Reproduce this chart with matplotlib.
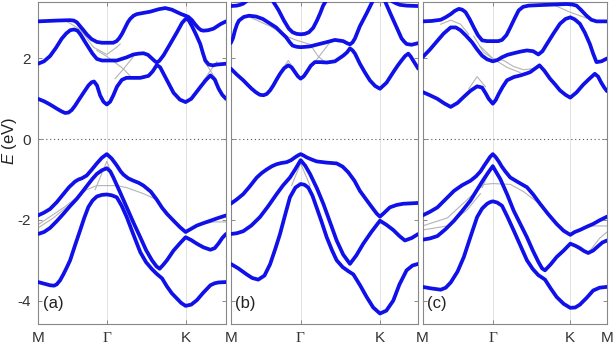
import matplotlib.pyplot as plt

# --- panel (a) -------------------------------------------------------------
a_ticks = [0, 0.366, 0.785, 1.0]

a_c1_k = [0, 0.10, 0.17, 0.19, 0.206, 0.224, 0.242, 0.259, 0.285, 0.313, 0.34, 0.366, 0.40, 0.418,
          0.432, 0.448, 0.464, 0.478, 0.49, 0.508, 0.526, 0.561, 0.597, 0.641, 0.677, 0.712, 0.739,
          0.762, 0.785, 0.80, 0.819, 0.835, 0.854, 0.868, 0.881, 0.905, 0.934, 0.97, 1.0]
a_c1_e = [2.92, 2.94, 2.95, 2.94, 2.90, 2.80, 2.70, 2.60, 2.48, 2.41, 2.39, 2.39, 2.39, 2.43,
          2.50, 2.62, 2.77, 2.90, 2.98, 3.06, 3.10, 3.13, 3.16, 3.22, 3.25, 3.21, 3.15,
          3.10, 3.06, 3.03, 2.95, 2.85, 2.75, 2.70, 2.69, 2.70, 2.74, 2.85, 2.92]
a_c2_k = [0, 0.032, 0.064, 0.095, 0.126, 0.15, 0.171, 0.192, 0.21, 0.224, 0.245, 0.268, 0.29, 0.313,
          0.34, 0.366, 0.419, 0.472, 0.508, 0.535, 0.561, 0.585, 0.606, 0.62, 0.632, 0.645, 0.668,
          0.703, 0.739, 0.766, 0.785, 0.80, 0.819, 0.84, 0.863, 0.878, 0.890, 0.908, 0.93, 0.952, 1.0]
a_c2_e = [1.87, 1.93, 2.06, 2.26, 2.49, 2.62, 2.70, 2.72, 2.69, 2.61, 2.45, 2.28, 2.12, 1.99,
          1.95, 1.95, 1.95, 2.03, 2.10, 2.12, 2.13, 2.09, 2.00, 1.94, 1.90, 1.94, 2.08,
          2.36, 2.65, 2.88, 2.98, 2.96, 2.80, 2.60, 2.36, 2.12, 1.95, 1.85, 1.83, 1.85, 1.87]
a_c3_k = [0, 0.032, 0.064, 0.099, 0.125, 0.144, 0.162, 0.179, 0.197, 0.215, 0.242, 0.268, 0.285,
          0.298, 0.314, 0.330, 0.348, 0.366, 0.384, 0.401, 0.42, 0.446, 0.47, 0.499, 0.544, 0.588,
          0.61, 0.632, 0.65, 0.668, 0.695, 0.721, 0.755, 0.785, 0.815, 0.845, 0.863, 0.89, 0.917,
          0.94, 0.961, 0.98, 1.0]
a_c3_e = [1.00, 0.94, 0.86, 0.76, 0.69, 0.65, 0.66, 0.72, 0.83, 0.96, 1.15, 1.33, 1.41,
          1.43, 1.33, 1.09, 0.93, 0.86, 0.93, 1.09, 1.30, 1.47, 1.52, 1.52, 1.52, 1.57,
          1.68, 1.84, 1.78, 1.62, 1.38, 1.15, 0.98, 0.92, 1.00, 1.18, 1.29, 1.45, 1.58,
          1.48, 1.25, 1.10, 1.00]
a_v1_k = [0, 0.032, 0.064, 0.10, 0.135, 0.165, 0.197, 0.215, 0.233, 0.259, 0.285, 0.313, 0.34,
          0.366, 0.392, 0.419, 0.44, 0.455, 0.48, 0.508, 0.535, 0.561, 0.60, 0.632, 0.66, 0.686,
          0.721, 0.755, 0.785, 0.815, 0.845, 0.88, 0.917, 0.96, 1.0]
a_v1_e = [-1.89, -1.82, -1.73, -1.56, -1.36, -1.19, -1.05, -1.00, -0.97, -0.90, -0.76, -0.60, -0.46,
          -0.37, -0.48, -0.65, -0.80, -0.88, -0.97, -1.03, -1.08, -1.15, -1.30, -1.50, -1.70, -1.85,
          -2.02, -2.18, -2.30, -2.22, -2.14, -2.08, -2.02, -1.95, -1.89]
a_v2_k = [0, 0.032, 0.064, 0.10, 0.135, 0.17, 0.206, 0.24, 0.268, 0.29, 0.313, 0.34, 0.366, 0.385,
          0.401, 0.435, 0.472, 0.508, 0.544, 0.575, 0.606, 0.63, 0.647, 0.665, 0.686, 0.721, 0.755,
          0.785, 0.815, 0.845, 0.88, 0.917, 0.94, 0.961, 0.98, 1.0]
a_v2_e = [-2.35, -2.30, -2.20, -2.03, -1.85, -1.66, -1.48, -1.28, -1.11, -0.98, -0.86, -0.77, -0.72,
          -0.80, -0.95, -1.30, -1.69, -2.07, -2.43, -2.75, -3.00, -3.15, -3.21, -3.12, -3.00, -2.76,
          -2.58, -2.43, -2.50, -2.59, -2.68, -2.74, -2.70, -2.58, -2.45, -2.35]
a_v3_k = [0, 0.032, 0.064, 0.085, 0.099, 0.117, 0.135, 0.153, 0.171, 0.197, 0.224, 0.246, 0.268,
          0.29, 0.313, 0.34, 0.366, 0.392, 0.419, 0.445, 0.472, 0.508, 0.544, 0.575, 0.606, 0.632,
          0.66, 0.686, 0.712, 0.739, 0.762, 0.785, 0.815, 0.845, 0.88, 0.917, 0.94, 0.961, 1.0]
a_v3_e = [-3.54, -3.58, -3.62, -3.63, -3.60, -3.50, -3.35, -3.18, -3.00, -2.63, -2.26, -1.95, -1.68,
          -1.52, -1.42, -1.38, -1.37, -1.39, -1.44, -1.65, -1.93, -2.37, -2.80, -3.05, -3.22, -3.34,
          -3.45, -3.65, -3.82, -3.95, -4.06, -4.13, -4.10, -3.99, -3.80, -3.62, -3.57, -3.55, -3.54]

# grey (reference) bands, only where they show
a_g = [
    ([0.153, 0.224, 0.295, 0.366, 0.419, 0.437], [2.92, 2.72, 2.28, 2.10, 2.28, 2.36]),
    ([0.313, 0.366, 0.410, 0.455, 0.499], [2.20, 2.05, 1.90, 1.74, 1.52]),
    ([0.410, 0.455, 0.508], [1.50, 1.74, 2.05]),
    ([0.881, 0.917, 0.952], [1.95, 1.70, 1.45]),
    ([0.881, 0.917, 0.952], [1.45, 1.70, 1.92]),
    ([0, 0.135, 0.259, 0.313, 0.366, 0.419, 0.472, 0.561, 0.632],
     [-2.12, -1.70, -1.25, -1.15, -1.15, -1.15, -1.20, -1.35, -1.50]),
    ([0.304, 0.366, 0.428], [-1.25, -0.55, -1.25]),
    ([0.785, 0.863, 0.934, 1.0], [-2.30, -2.12, -2.05, -2.05]),
    ([0, 0.082, 0.188, 0.277], [-2.20, -1.95, -1.55, -1.10]),
]

# --- panel (b) -------------------------------------------------------------
b_ticks = [0, 0.373, 0.796, 1.0]

b_c1_k = [0, 0.032, 0.050, 0.067, 0.121, 0.174, 0.224, 0.255, 0.284, 0.310, 0.330, 0.352, 0.373,
          0.395, 0.417, 0.440, 0.460, 0.478, 0.492, 0.529, 0.654, 0.796, 0.860, 0.885, 0.902,
          0.938, 1.0]
b_c1_e = [3.30, 3.31, 3.33, 3.36, 3.55, 3.62, 3.43, 3.20, 2.94, 2.74, 2.65, 2.61, 2.60,
          2.61, 2.65, 2.76, 2.94, 3.13, 3.30, 3.60, 3.90, 3.75, 3.42, 3.36, 3.33,
          3.31, 3.30]
b_c2_k = [0, 0.012, 0.023, 0.034, 0.044, 0.07, 0.098, 0.135, 0.171, 0.205, 0.242, 0.27, 0.295,
          0.315, 0.330, 0.352, 0.373, 0.40, 0.423, 0.465, 0.508, 0.556, 0.600, 0.62, 0.636, 0.65,
          0.663, 0.689, 0.725, 0.758, 0.796, 0.822, 0.853, 0.885, 0.911, 0.925, 0.938, 0.964, 1.0]
b_c2_e = [2.38, 2.50, 2.70, 2.85, 2.94, 3.03, 3.06, 3.04, 2.98, 2.88, 2.77, 2.64, 2.53,
          2.40, 2.32, 2.29, 2.28, 2.29, 2.30, 2.35, 2.40, 2.46, 2.43, 2.38, 2.35, 2.40,
          2.50, 2.80, 3.12, 3.43, 3.62, 3.43, 3.10, 2.77, 2.50, 2.42, 2.36, 2.34, 2.38]
b_c3_k = [0, 0.033, 0.067, 0.09, 0.112, 0.135, 0.156, 0.175, 0.192, 0.21, 0.227, 0.245, 0.263,
          0.285, 0.307, 0.325, 0.343, 0.358, 0.373, 0.39, 0.405, 0.427, 0.449, 0.48, 0.512, 0.556,
          0.600, 0.62, 0.636, 0.65, 0.663, 0.689, 0.715, 0.742, 0.77, 0.796, 0.831, 0.867, 0.89,
          0.911, 0.93, 0.947, 0.96, 0.973, 1.0]
b_c3_e = [1.75, 1.60, 1.46, 1.35, 1.25, 1.16, 1.10, 1.09, 1.12, 1.21, 1.33, 1.48, 1.62,
          1.76, 1.83, 1.78, 1.66, 1.56, 1.50, 1.56, 1.66, 1.82, 1.91, 1.91, 1.90, 1.93,
          2.07, 2.15, 2.25, 2.20, 2.12, 1.87, 1.66, 1.46, 1.32, 1.25, 1.40, 1.66, 1.82,
          1.95, 2.06, 2.12, 2.05, 1.95, 1.75]
b_v1_k = [0, 0.033, 0.067, 0.10, 0.139, 0.165, 0.192, 0.22, 0.245, 0.27, 0.298, 0.322, 0.343,
          0.36, 0.373, 0.387, 0.405, 0.43, 0.458, 0.51, 0.565, 0.597, 0.627, 0.66, 0.689, 0.725,
          0.760, 0.78, 0.796, 0.815, 0.849, 0.885, 0.920, 0.96, 1.0]
b_v1_e = [-1.60, -1.49, -1.36, -1.18, -0.95, -0.84, -0.75, -0.67, -0.62, -0.59, -0.57, -0.52, -0.45,
          -0.40, -0.37, -0.40, -0.45, -0.50, -0.55, -0.58, -0.60, -0.68, -0.82, -1.03, -1.28, -1.51,
          -1.73, -1.85, -1.92, -1.84, -1.69, -1.63, -1.60, -1.59, -1.58]
b_v2_k = [0, 0.033, 0.067, 0.11, 0.156, 0.20, 0.245, 0.28, 0.316, 0.345, 0.373, 0.398, 0.423,
          0.46, 0.494, 0.53, 0.565, 0.60, 0.636, 0.67, 0.707, 0.75, 0.796, 0.83, 0.867, 0.90,
          0.929, 0.965, 1.0]
b_v2_e = [-2.35, -2.33, -2.28, -2.14, -1.93, -1.66, -1.36, -1.14, -0.95, -0.74, -0.52, -0.66, -0.86,
          -1.22, -1.60, -2.06, -2.51, -2.86, -3.09, -2.88, -2.59, -2.30, -2.02, -2.12, -2.25, -2.40,
          -2.51, -2.45, -2.35]
b_v3_k = [0, 0.04, 0.085, 0.115, 0.147, 0.18, 0.210, 0.237, 0.263, 0.29, 0.316, 0.345, 0.373,
          0.394, 0.414, 0.436, 0.458, 0.485, 0.512, 0.54, 0.565, 0.597, 0.627, 0.654, 0.69, 0.725,
          0.76, 0.796, 0.83, 0.867, 0.90, 0.938, 0.97, 1.0]
b_v3_e = [-3.09, -3.20, -3.35, -3.44, -3.48, -3.38, -3.10, -2.73, -2.35, -1.88, -1.44, -1.20, -1.11,
          -1.13, -1.20, -1.40, -1.69, -2.05, -2.43, -2.75, -3.00, -3.17, -3.27, -3.35, -3.62, -3.91,
          -4.17, -4.32, -4.25, -4.00, -3.60, -3.25, -3.13, -3.09]

b_g = [
    ([0.085, 0.210, 0.298, 0.352, 0.373, 0.423, 0.467, 0.512],
     [3.06, 2.80, 2.55, 2.45, 2.42, 2.35, 2.05, 1.88]),
    ([0.396, 0.458, 0.529], [1.65, 1.97, 2.40]),
    ([0.272, 0.307, 0.343], [1.70, 1.95, 1.70]),
    ([0.325, 0.373, 0.423], [-1.15, -0.60, -1.15]),
]

# --- panel (c) -------------------------------------------------------------
c_ticks = [0, 0.381, 0.801, 1.0]

c_c1_k = [0, 0.05, 0.099, 0.125, 0.153, 0.175, 0.197, 0.215, 0.233, 0.255, 0.278, 0.30, 0.323,
          0.35, 0.381, 0.41, 0.431, 0.455, 0.476, 0.50, 0.521, 0.545, 0.575, 0.62, 0.673, 0.73,
          0.781, 0.81, 0.835, 0.86, 0.889, 0.915, 0.943, 0.97, 1.0]
c_c1_e = [2.92, 2.93, 2.96, 3.02, 3.10, 3.18, 3.23, 3.21, 3.15, 2.98, 2.77, 2.58, 2.45,
          2.43, 2.43, 2.43, 2.46, 2.58, 2.77, 3.00, 3.19, 3.28, 3.31, 3.32, 3.33, 3.34,
          3.35, 3.34, 3.31, 3.20, 3.06, 2.96, 2.92, 2.92, 2.92]
c_c2_k = [0, 0.04, 0.081, 0.115, 0.153, 0.18, 0.206, 0.235, 0.269, 0.295, 0.323, 0.35, 0.381,
          0.405, 0.431, 0.46, 0.494, 0.53, 0.566, 0.60, 0.628, 0.65, 0.673, 0.71, 0.745, 0.775,
          0.801, 0.825, 0.853, 0.88, 0.907, 0.925, 0.943, 0.97, 1.0]
c_c2_e = [2.03, 2.22, 2.44, 2.62, 2.77, 2.77, 2.70, 2.57, 2.40, 2.23, 2.07, 1.98, 1.93,
          1.96, 2.03, 2.09, 2.13, 2.17, 2.20, 2.18, 2.10, 2.18, 2.35, 2.62, 2.86, 2.98,
          3.02, 2.97, 2.86, 2.64, 2.36, 2.12, 1.91, 1.93, 2.00]
c_c3_k = [0, 0.04, 0.081, 0.117, 0.153, 0.19, 0.224, 0.26, 0.296, 0.323, 0.342, 0.359, 0.381,
          0.397, 0.413, 0.435, 0.458, 0.495, 0.530, 0.558, 0.583, 0.61, 0.634, 0.66, 0.691, 0.72,
          0.745, 0.775, 0.801, 0.835, 0.871, 0.905, 0.934, 0.952, 0.969, 0.985, 1.0]
c_c3_e = [1.17, 1.09, 1.00, 0.89, 0.80, 0.90, 1.05, 1.20, 1.31, 1.28, 1.14, 1.00, 0.88,
          0.97, 1.12, 1.30, 1.46, 1.54, 1.58, 1.62, 1.66, 1.75, 1.83, 1.70, 1.50, 1.35,
          1.21, 1.10, 1.03, 1.16, 1.35, 1.50, 1.62, 1.55, 1.40, 1.28, 1.19]
c_v1_k = [0, 0.04, 0.081, 0.125, 0.171, 0.215, 0.260, 0.29, 0.314, 0.335, 0.350, 0.366, 0.381,
          0.396, 0.413, 0.43, 0.449, 0.476, 0.52, 0.566, 0.60, 0.637, 0.68, 0.727, 0.765, 0.801,
          0.825, 0.853, 0.89, 0.925, 0.96, 1.0]
c_v1_e = [-1.89, -1.80, -1.69, -1.49, -1.28, -1.14, -1.03, -0.92, -0.80, -0.65, -0.55, -0.44, -0.37,
          -0.44, -0.55, -0.68, -0.80, -0.95, -1.07, -1.19, -1.37, -1.60, -1.85, -2.10, -2.27, -2.37,
          -2.30, -2.25, -2.17, -2.10, -2.01, -1.92]
c_v2_k = [0, 0.04, 0.081, 0.125, 0.171, 0.215, 0.260, 0.295, 0.332, 0.357, 0.381, 0.40, 0.422,
          0.46, 0.494, 0.53, 0.566, 0.598, 0.628, 0.648, 0.664, 0.695, 0.727, 0.765, 0.801, 0.828,
          0.853, 0.875, 0.898, 0.925, 0.952, 0.975, 1.0]
c_v2_e = [-2.49, -2.46, -2.40, -2.23, -2.02, -1.78, -1.52, -1.26, -0.99, -0.82, -0.67, -0.82, -0.99,
          -1.38, -1.77, -2.10, -2.43, -2.76, -3.04, -3.20, -3.25, -3.10, -2.92, -2.76, -2.59, -2.64,
          -2.70, -2.77, -2.82, -2.76, -2.65, -2.56, -2.51]
c_v3_k = [0, 0.05, 0.099, 0.126, 0.153, 0.19, 0.224, 0.26, 0.296, 0.323, 0.350, 0.366, 0.381,
          0.405, 0.431, 0.46, 0.494, 0.53, 0.566, 0.598, 0.628, 0.648, 0.664, 0.695, 0.727, 0.765,
          0.801, 0.828, 0.853, 0.89, 0.925, 0.96, 1.0]
c_v3_e = [-3.66, -3.70, -3.73, -3.68, -3.55, -3.28, -2.92, -2.42, -1.93, -1.72, -1.60, -1.56, -1.54,
          -1.57, -1.65, -1.92, -2.26, -2.63, -3.00, -3.22, -3.37, -3.43, -3.48, -3.70, -3.91, -4.08,
          -4.18, -4.17, -4.10, -3.93, -3.75, -3.68, -3.66]

c_g = [
    ([0.278, 0.332, 0.381, 0.440, 0.494, 0.548, 0.601, 0.634],
     [2.55, 2.15, 2.00, 1.95, 1.80, 1.72, 1.75, 1.83]),
    ([0.314, 0.381, 0.458, 0.530], [2.30, 2.00, 1.78, 1.65]),
    ([0.251, 0.296, 0.341], [1.25, 1.55, 1.30]),
    ([0.709, 0.799, 0.889], [3.33, 3.15, 3.00]),
    ([0.099, 0.153, 0.206, 0.251], [2.85, 2.95, 2.85, 2.60]),
    ([0, 0.135, 0.242, 0.332, 0.381, 0.476, 0.548, 0.619],
     [-2.15, -1.95, -1.50, -1.12, -1.10, -1.12, -1.30, -1.55]),
    ([0, 0.135, 0.242, 0.314], [-2.25, -2.15, -1.75, -1.35]),
    ([0.323, 0.381, 0.440], [-1.20, -0.62, -1.20]),
    ([0.801, 0.871, 0.925, 1.0], [-2.40, -2.20, -2.15, -2.15]),
    ([0.801, 0.853, 0.898, 0.961, 1.0], [-2.55, -2.75, -2.82, -2.45, -2.30]),
]

# the shared M between panels is written once
tick_labels = [['M', r'$\Gamma$', 'K', ''],
               ['M', r'$\Gamma$', 'K', ''],
               ['M', r'$\Gamma$', 'K', 'M']]
panel_names = ['(a)', '(b)', '(c)']

panels = [
    (a_ticks, [(a_c1_k, a_c1_e), (a_c2_k, a_c2_e), (a_c3_k, a_c3_e),
               (a_v1_k, a_v1_e), (a_v2_k, a_v2_e), (a_v3_k, a_v3_e)], a_g),
    (b_ticks, [(b_c1_k, b_c1_e), (b_c2_k, b_c2_e), (b_c3_k, b_c3_e),
               (b_v1_k, b_v1_e), (b_v2_k, b_v2_e), (b_v3_k, b_v3_e)], b_g),
    (c_ticks, [(c_c1_k, c_c1_e), (c_c2_k, c_c2_e), (c_c3_k, c_c3_e),
               (c_v1_k, c_v1_e), (c_v2_k, c_v2_e), (c_v3_k, c_v3_e)], c_g),
]

plt.rcParams['font.family'] = ['Liberation Sans', 'DejaVu Sans']
plt.rcParams['mathtext.fontset'] = 'custom'
plt.rcParams['mathtext.rm'] = 'Liberation Serif'
plt.rcParams['mathtext.it'] = 'Liberation Sans:italic'

fig = plt.figure(figsize=(6.14, 3.48), dpi=100)
lefts = [38 / 614, 230.7 / 614, 422.5 / 614]
widths = [188 / 614, 187.5 / 614, 184.5 / 614]

for i, (ticks, bands, greys) in enumerate(panels):
    ax = fig.add_axes([lefts[i], 24 / 348, widths[i], 322 / 348])
    for t in ticks[1:3]:
        ax.axvline(t, color='#e3e3e3', lw=0.7, zorder=0)
    ax.axhline(0, color='#555555', lw=0.8, ls=(0, (1, 2.5)), zorder=1)
    for gk, ge in greys:
        ax.plot(gk, ge, color='#b4b4b4', lw=0.8, zorder=2)
    for bk, be in bands:
        ax.plot(bk, be, color='#1010e8', lw=2.7, solid_joinstyle='round',
                solid_capstyle='round', zorder=3)
    ax.set_xlim(0, 1)
    ax.set_ylim(-4.58, 3.4)
    ax.set_xticks(ticks)
    ax.set_xticklabels(tick_labels[i], fontsize=11)
    ax.set_yticks([-4, -2, 0, 2])
    ax.tick_params(direction='in', length=3, width=0.6, color='#777777',
                   top=True, right=True, labelsize=11)
    ax.tick_params(axis='x', pad=5)
    ax.tick_params(axis='y', pad=5)
    if i > 0:
        ax.set_yticklabels([])
    else:
        ax.set_yticklabels(['-4', '-2', '0', '2'], color='#333333')
    for lab in ax.get_xticklabels():
        lab.set_color('#333333')
    for sp in ax.spines.values():
        sp.set_color('#888888')
        sp.set_linewidth(0.8)
    ax.text(0.025, 0.065, panel_names[i], transform=ax.transAxes, fontsize=12,
            color='#222222', va='center', ha='left')

fig.text(0.016, 0.595, r'$E$ (eV)', rotation=90, fontsize=12, va='center', ha='center',
         color='#222222')

fig.savefig('out.png', dpi=100)
